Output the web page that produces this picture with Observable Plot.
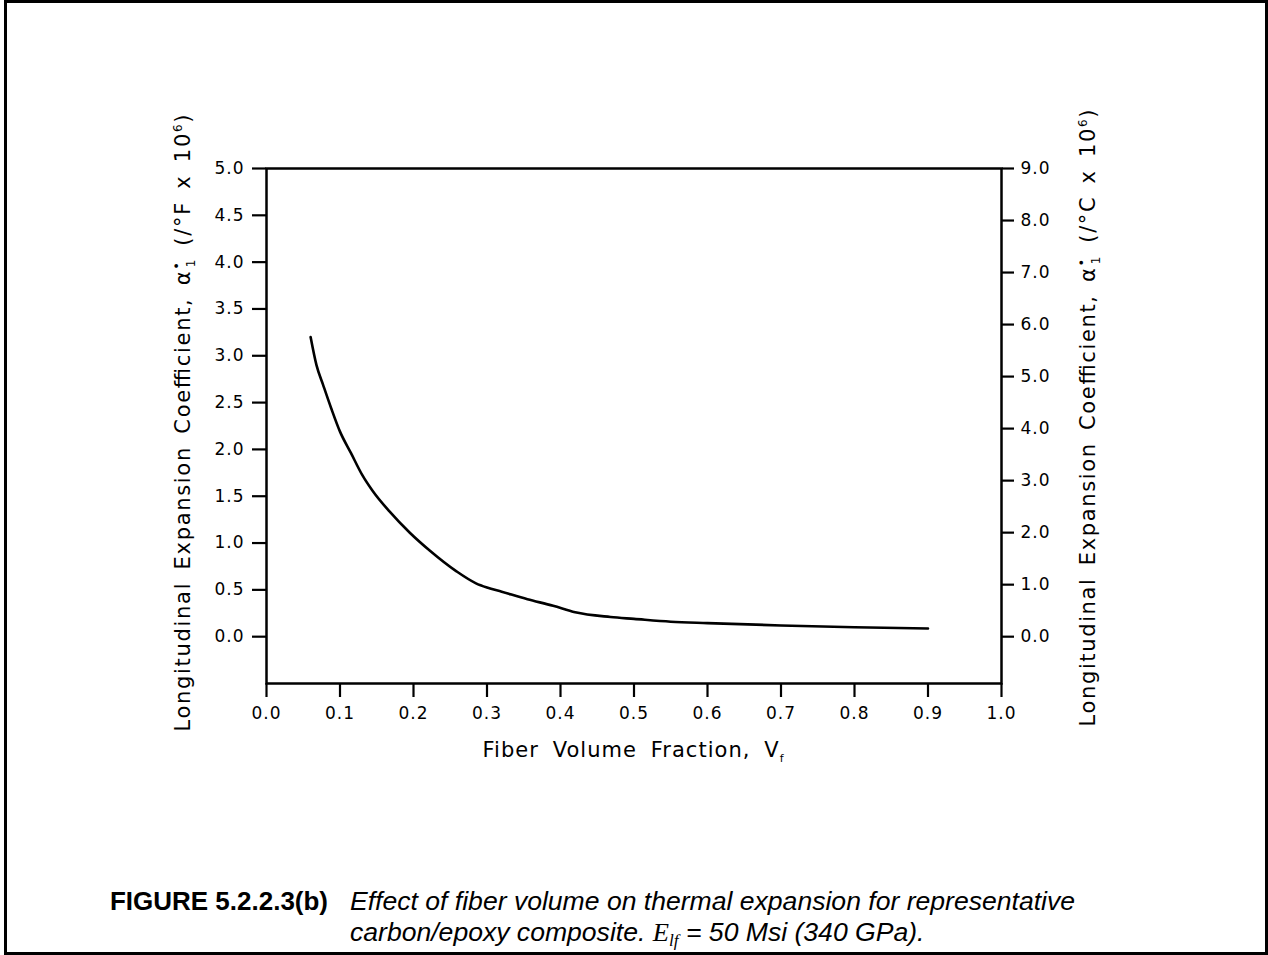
<!DOCTYPE html>
<html>
<head>
<meta charset="utf-8">
<script src="https://cdn.jsdelivr.net/npm/d3@7"></script>
<script src="https://cdn.jsdelivr.net/npm/@observablehq/plot@0.6"></script>
<style>
  html, body { margin: 0; padding: 0; background: #fff; }
  #page { position: relative; width: 1268px; height: 955px; overflow: hidden; background: #fff; }
  #chart { position: absolute; left: 0; top: 0; }
  #caption { position: absolute; left: 0; top: 790px; }
  #border { position: absolute; left: 4px; top: 0; width: 1264px; height: 955px; border: 3px solid #000; box-sizing: border-box; pointer-events: none; }
</style>
</head>
<body>
<div id="page">
  <div id="chart"></div>
  <div id="caption"></div>
  <div id="border"></div>
</div>
<script>
// ---- data ----
const fiberVolume = [0.060, 0.068, 0.077, 0.088, 0.100, 0.115, 0.130, 0.145, 0.167, 0.195, 0.222, 0.258, 0.285, 0.300, 0.320, 0.355, 0.390, 0.420, 0.468, 0.500, 0.550, 0.600, 0.700, 0.800, 0.900];
const alphaF = [3.20, 2.90, 2.69, 2.44, 2.19, 1.96, 1.73, 1.55, 1.34, 1.11, 0.92, 0.70, 0.57, 0.525, 0.48, 0.40, 0.33, 0.26, 0.21, 0.19, 0.16, 0.145, 0.12, 0.10, 0.088];
const xTicks = [0.0, 0.1, 0.2, 0.3, 0.4, 0.5, 0.6, 0.7, 0.8, 0.9, 1.0];
const leftTicksF = [0.0, 0.5, 1.0, 1.5, 2.0, 2.5, 3.0, 3.5, 4.0, 4.5, 5.0];
const rightTicksC = [0, 1, 2, 3, 4, 5, 6, 7, 8, 9];
const F_TO_C = 1.8;
const xTitle = "Fiber Volume Fraction, V";
const xTitleSub = "f";
const yTitleMain = "Longitudinal Expansion Coefficient, α";
const yTitleLeftUnit = " (/°F x 10";
const yTitleRightUnit = " (/°C x 10";
const exponent = "6";
const captionLabel = "FIGURE 5.2.2.3(b)";
const captionLine1 = "Effect of fiber volume on thermal expansion for representative";
const captionLine2a = "carbon/epoxy composite.  ";
const captionLine2b = " = 50 Msi (340 GPa).";

const rows = fiberVolume.map((v, i) => ({vf: v, a: alphaF[i]}));

const chart = Plot.plot({
  width: 1268,
  height: 790,
  marginLeft: 266,
  marginRight: 267,
  marginTop: 168,
  marginBottom: 107,
  x: {domain: [0, 1]},
  y: {domain: [-0.5, 5]},
  style: {fontFamily: "DejaVu Sans", fontSize: "17px", color: "#000", background: "transparent"},
  marks: [
    Plot.frame({stroke: "#000", strokeWidth: 2.5}),
    Plot.axisX(xTicks, {anchor: "bottom", tickSize: 14, tickPadding: 9, strokeWidth: 2.2, tickFormat: d => d.toFixed(1), label: null}),
    Plot.axisY(leftTicksF, {anchor: "left", tickSize: 14, tickPadding: 8, strokeWidth: 2.2, tickFormat: d => d.toFixed(1), label: null}),
    Plot.axisY(rightTicksC.map(c => c / F_TO_C), {anchor: "right", tickSize: 12, tickPadding: 7, strokeWidth: 2.2, tickFormat: d => (d * F_TO_C).toFixed(1), label: null}),
    Plot.line(rows, {x: "vf", y: "a", stroke: "#000", strokeWidth: 2.6, curve: "monotone-x"})
  ]
});
document.getElementById("chart").appendChild(chart);

const svg = d3.select(chart);
svg.selectAll('g[aria-label="x-axis tick label"] text, g[aria-label="y-axis tick label"] text')
  .style("letter-spacing", "1px");

// x-axis title
const xt = svg.append("text")
  .attr("x", 633).attr("y", 757)
  .attr("text-anchor", "middle")
  .attr("font-family", "DejaVu Sans").attr("font-size", 21)
  .style("word-spacing", "6px");
xt.append("tspan").text(xTitle);
xt.append("tspan").attr("font-size", 11).attr("dy", 5).text(xTitleSub);
xt.attr("textLength", 301).attr("lengthAdjust", "spacing");

function yTitle(x, y, unit) {
  const t = svg.append("text")
    .attr("transform", `translate(${x},${y}) rotate(-90)`)
    .attr("text-anchor", "middle")
    .attr("font-family", "DejaVu Sans").attr("font-size", 21)
    .style("word-spacing", "4px");
  t.append("tspan").text(yTitleMain);
  t.append("tspan").attr("font-size", 13).attr("dy", -9).text("•");
  t.append("tspan").attr("font-size", 12).attr("dy", 14).attr("dx", -7).text("1");
  t.append("tspan").attr("dy", -5).text(unit);
  t.append("tspan").attr("font-size", 12).attr("dy", -8).text(exponent);
  t.append("tspan").attr("dy", 8).text(")");
  t.attr("textLength", 617).attr("lengthAdjust", "spacing");
}
yTitle(190, 423, yTitleLeftUnit);
yTitle(1095, 418, yTitleRightUnit);

// caption
const cap = d3.select("#caption").append("svg").attr("width", 1268).attr("height", 165);
const capFont = "'Liberation Sans', Arial, sans-serif";
cap.append("text").attr("x", 110).attr("y", 120)
  .attr("font-family", capFont).attr("font-size", 26).attr("font-weight", "bold")
  .attr("textLength", 218).attr("lengthAdjust", "spacingAndGlyphs")
  .text(captionLabel);
const l1 = cap.append("text").attr("x", 350).attr("y", 120)
  .attr("font-family", capFont).attr("font-size", 26).attr("font-style", "italic")
  .text(captionLine1);
const n1 = l1.node().getComputedTextLength();
const k = 725 / n1;
l1.attr("textLength", 725).attr("lengthAdjust", "spacingAndGlyphs");
const l2 = cap.append("text").attr("x", 350).attr("y", 151)
  .attr("font-family", capFont).attr("font-size", 26).attr("font-style", "italic");
l2.append("tspan").text(captionLine2a);
l2.append("tspan").attr("font-family", "'Liberation Serif', 'Times New Roman', serif").text("E");
l2.append("tspan").attr("font-family", "'Liberation Serif', 'Times New Roman', serif").attr("font-size", 17).attr("dy", 5).text("lf");
l2.append("tspan").attr("dy", -5).text(captionLine2b);
const n2 = l2.node().getComputedTextLength();
l2.attr("textLength", n2 * k).attr("lengthAdjust", "spacingAndGlyphs");
</script>
</body>
</html>
